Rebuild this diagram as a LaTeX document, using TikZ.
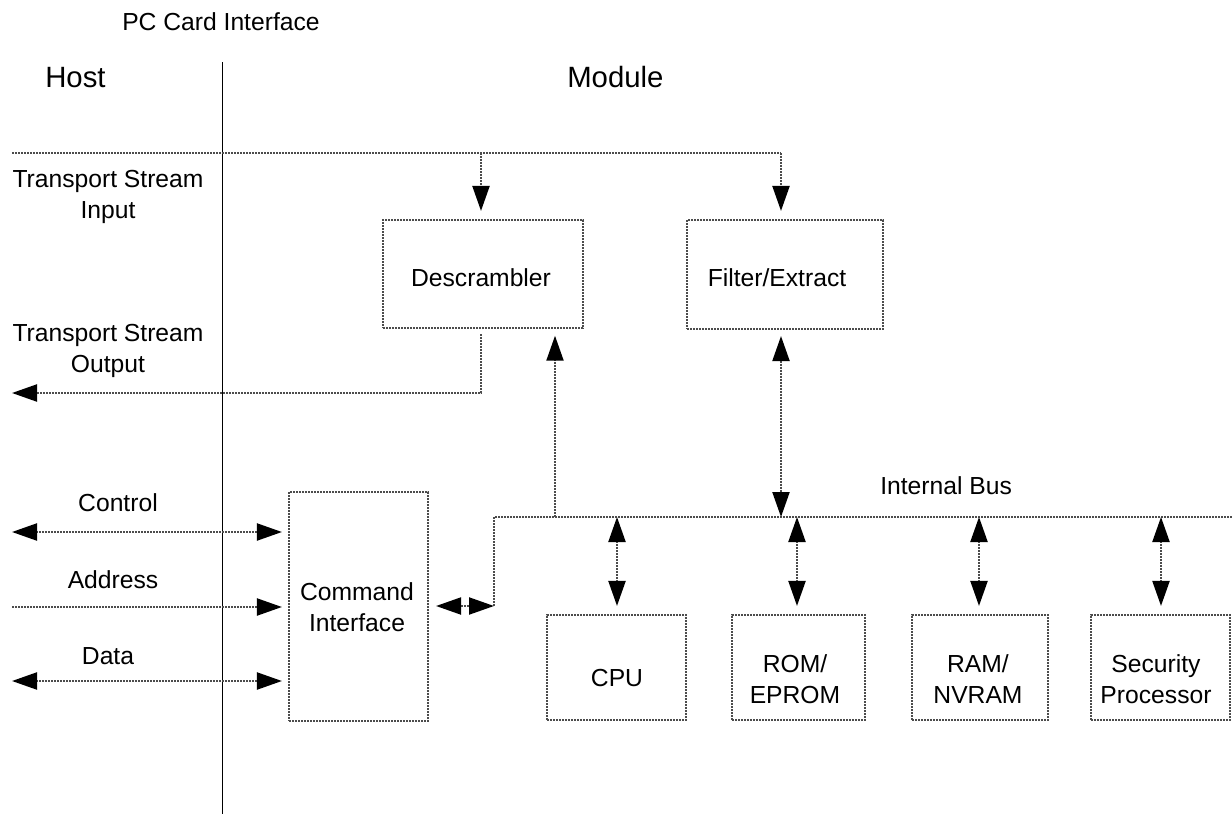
\documentclass[tikz,border=0pt]{standalone}
\usepackage{fontspec}
\setmainfont{Liberation Sans}
\usetikzlibrary{arrows.meta}
\begin{document}
\begin{tikzpicture}[x=0.75pt,y=-0.75pt,
  >={Triangle[length=18.75pt,width=12.75pt,black]},
  conn/.style={draw=black!70, line width=1.6pt, dash pattern=on 1.5pt off 0.75pt},
  box/.style={conn, rectangle, inner sep=0pt},
  lbl/.style={font=\fontsize{18.5}{23}\selectfont, align=center, inner sep=0pt},
  big/.style={font=\fontsize{22}{26}\selectfont, inner sep=0pt},
  iface/.style={draw=black, line width=0.6pt}
]
\useasboundingbox (0,0) rectangle (1232,814);

% headings
\node[lbl, anchor=base west] (pcci) at (122,30) {PC Card Interface};
\node[big, anchor=base west] (host) at (45,87) {Host};
\node[big, anchor=base west] (module) at (567,87) {Module};

% interface line
\coordinate (ifTop) at (222,62);
\coordinate (ifBot) at (222,814);
\draw[iface] (ifTop) -- (ifBot);

% boxes
\node[box, minimum width=150pt, minimum height=81pt] (desc) at (483,274) {};
\node[box, minimum width=147pt, minimum height=81.75pt] (filt) at (785,274.5) {};
\node[box, minimum width=104.25pt, minimum height=171.75pt] (cmd) at (358.5,606.5) {};
\node[box, minimum width=104.25pt, minimum height=78.75pt] (cpu) at (616.5,667.5) {};
\node[box, minimum width=99.75pt, minimum height=78.75pt] (rom) at (798.5,667.5) {};
\node[box, minimum width=102pt, minimum height=78.75pt] (ram) at (980,667.5) {};
\node[box, minimum width=104.25pt, minimum height=78.75pt] (sec) at (1160.5,667.5) {};

% box texts
\node[lbl] (tdesc) at (481,278) {Descrambler};
\node[lbl] (tfilt) at (777,278) {Filter/Extract};
\node[lbl] (tcmd) at (357,607) {Command\\Interface};
\node[lbl] (tcpu) at (617,678) {CPU};
\node[lbl] (trom) at (795,679) {ROM/\\EPROM};
\node[lbl] (tram) at (978,679) {RAM/\\NVRAM};
\node[lbl] (tsec) at (1156,679) {Security\\Processor};

% side labels
\node[lbl] (tsinl) at (108,197) {Transport Stream\\Input};
\node[lbl] (tsoutl) at (108,351) {Transport Stream\\Output};
\node[lbl, anchor=base] (ctll) at (118,511) {Control};
\node[lbl, anchor=base] (addrl) at (113,588) {Address};
\node[lbl, anchor=base] (datal) at (108,664) {Data};
\node[lbl, anchor=base west] (busl) at (880,494) {Internal Bus};

% transport stream input
\coordinate (tsin) at (12,153);
\coordinate (jd) at (481,153);
\coordinate (jf) at (781,153);
\draw[conn] (tsin) -- (jf);
\draw[conn,->,shorten >=6pt] (jd) -- (jd |- desc.north);
\draw[conn,->,shorten >=6pt] (jf) -- (jf |- filt.north);

% transport stream output
\coordinate (tsout) at (12,393);
\coordinate (dso) at (481,334);
\draw[conn,->] (dso) |- (tsout);

% internal bus
\coordinate (busL) at (494,517);
\coordinate (busR) at (1232,517);
\coordinate (cic) at (494,606);
\draw[conn] (busR) -- (busL) -- (cic);
\draw[conn,<->,shorten <=5.25pt] (cmd.east |- cic) -- (cic);

% descrambler / filter to bus
\coordinate (db) at (555,517);
\coordinate (fb) at (781,517);
\draw[conn,->,shorten >=5pt] (db) -- (db |- desc.south);
\draw[conn,<->,shorten <=4.5pt] (fb |- filt.south) -- (fb);

% bus to modules
\coordinate (b1) at (617,517);
\coordinate (b2) at (797,517);
\coordinate (b3) at (979,517);
\coordinate (b4) at (1161,517);
\draw[conn,<->,shorten >=6pt] (b1) -- (b1 |- cpu.north);
\draw[conn,<->,shorten >=6pt] (b2) -- (b2 |- rom.north);
\draw[conn,<->,shorten >=6pt] (b3) -- (b3 |- ram.north);
\draw[conn,<->,shorten >=6pt] (b4) -- (b4 |- sec.north);

% host side signals
\coordinate (ctlL) at (12,532);
\coordinate (addrL) at (12,607);
\coordinate (dataL) at (12,681);
\draw[conn,<->,shorten >=4.5pt] (ctlL) -- (cmd.west |- ctlL);
\draw[conn,->,shorten >=4.5pt] (addrL) -- (cmd.west |- addrL);
\draw[conn,<->,shorten >=4.5pt] (dataL) -- (cmd.west |- dataL);
\end{tikzpicture}
\end{document}
